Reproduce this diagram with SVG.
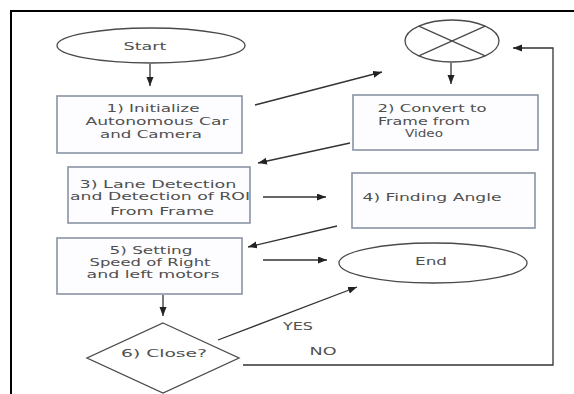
<svg xmlns="http://www.w3.org/2000/svg" width="574" height="394" viewBox="0 0 574 394">
<style>
.box{fill:#fdfdff;stroke:#8a93a4;stroke-width:1.6}
.term{fill:#ffffff;stroke:#4a4a4a;stroke-width:1.3}
.t{font-family:"DejaVu Sans","Liberation Sans",sans-serif;font-size:11px;fill:#505050;text-anchor:middle}
.c{fill:none;stroke:#333333;stroke-width:1.3}
</style>
<defs>
<marker id="ah" markerUnits="userSpaceOnUse" markerWidth="10" markerHeight="8" refX="9" refY="3.5" orient="auto">
<path d="M0,0 L9,3.5 L0,7 z" fill="#222222"/>
</marker>
</defs>
<rect width="574" height="394" fill="#ffffff"/>
<path d="M11,394 V11 H574" fill="none" stroke="#000000" stroke-width="2"/>
<g id="start">
<ellipse class="term" cx="151" cy="45.5" rx="94" ry="17.5"/>
<text class="t" x="145" y="50" textLength="43" lengthAdjust="spacingAndGlyphs">Start</text>
</g>
<g id="merge">
<ellipse class="term" cx="452" cy="41" rx="47" ry="21"/>
<path class="term" d="M418.8,26.2 L485.2,55.8 M418.8,55.8 L485.2,26.2" fill="none"/>
</g>
<g id="step1">
<rect class="box" x="57" y="96" width="185" height="57"/>
<text class="t" x="153" y="112" textLength="93" lengthAdjust="spacingAndGlyphs">1) Initialize</text>
<text class="t" x="157" y="125" textLength="143" lengthAdjust="spacingAndGlyphs">Autonomous Car</text>
<text class="t" x="151" y="138" textLength="102" lengthAdjust="spacingAndGlyphs">and Camera</text>
</g>
<g id="step2">
<rect class="box" x="353" y="95" width="185" height="55"/>
<text class="t" x="432" y="112" textLength="109" lengthAdjust="spacingAndGlyphs">2) Convert to</text>
<text class="t" x="424" y="125" textLength="92" lengthAdjust="spacingAndGlyphs">Frame from</text>
<text class="t" x="424" y="137" textLength="38" lengthAdjust="spacingAndGlyphs">Video</text>
</g>
<g id="step3">
<rect class="box" x="68" y="167" width="182" height="56"/>
<text class="t" x="158" y="188" textLength="157" lengthAdjust="spacingAndGlyphs">3) Lane Detection</text>
<text class="t" x="160" y="200" textLength="180" lengthAdjust="spacingAndGlyphs">and Detection of ROI</text>
<text class="t" x="162" y="215" textLength="104" lengthAdjust="spacingAndGlyphs">From Frame</text>
</g>
<g id="step4">
<rect class="box" x="352" y="173" width="183" height="55"/>
<text class="t" x="432" y="201" textLength="139" lengthAdjust="spacingAndGlyphs">4) Finding Angle</text>
</g>
<g id="step5">
<rect class="box" x="57" y="238" width="185" height="56"/>
<text class="t" x="151" y="254" textLength="83" lengthAdjust="spacingAndGlyphs">5) Setting</text>
<text class="t" x="150" y="266" textLength="121" lengthAdjust="spacingAndGlyphs">Speed of Right</text>
<text class="t" x="153" y="278" textLength="133" lengthAdjust="spacingAndGlyphs">and left motors</text>
</g>
<g id="step6">
<path class="term" d="M163,323 L239,358 L163,393 L87,358 Z"/>
<text class="t" x="164" y="357" textLength="86" lengthAdjust="spacingAndGlyphs">6) Close?</text>
</g>
<g id="end">
<ellipse class="term" cx="433" cy="263" rx="94" ry="20"/>
<text class="t" x="431" y="265" textLength="32" lengthAdjust="spacingAndGlyphs">End</text>
</g>
<g id="connectors">
<line class="c" x1="150" y1="64" x2="150" y2="86" marker-end="url(#ah)"/>
<line class="c" x1="255" y1="105" x2="382" y2="72" marker-end="url(#ah)"/>
<line class="c" x1="451" y1="63" x2="451" y2="84" marker-end="url(#ah)"/>
<line class="c" x1="350" y1="143" x2="258" y2="163" marker-end="url(#ah)"/>
<line class="c" x1="263" y1="197" x2="326" y2="197" marker-end="url(#ah)"/>
<line class="c" x1="337" y1="226" x2="248" y2="247" marker-end="url(#ah)"/>
<line class="c" x1="263" y1="260" x2="327" y2="260" marker-end="url(#ah)"/>
<line class="c" x1="163" y1="295" x2="163" y2="316" marker-end="url(#ah)"/>
<line class="c" x1="218" y1="340" x2="357" y2="287" marker-end="url(#ah)"/>
<polyline class="c" points="243,365 553,365 553,48 513,48" marker-end="url(#ah)"/>
<text class="t" x="298" y="330" textLength="30" lengthAdjust="spacingAndGlyphs">YES</text>
<text class="t" x="323" y="355" textLength="27" lengthAdjust="spacingAndGlyphs">NO</text>
</g>
</svg>
